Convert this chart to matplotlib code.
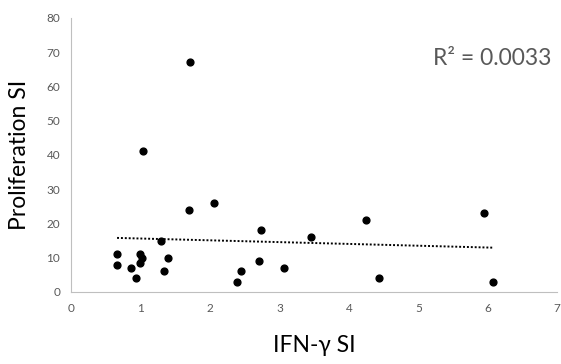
import matplotlib.pyplot as plt
import numpy as np

# IFN-gamma SI vs proliferation SI
ifn_si = [0.66, 0.66, 0.86, 0.93, 0.99, 1.02, 0.99, 1.03, 1.29, 1.34, 1.40,
          1.71, 1.70, 2.05, 2.39, 2.44, 2.73, 2.71, 3.06, 3.46, 4.24, 4.44,
          5.94, 6.08]
prolif_si = [11, 8, 7, 4, 11, 10, 8.3, 41, 15, 6, 10,
             67, 24, 26, 3, 6, 18, 9, 7, 16, 21, 4,
             23, 3]
x_ticks = [0, 1, 2, 3, 4, 5, 6, 7]
y_ticks = [0, 10, 20, 30, 40, 50, 60, 70, 80]

plt.rcParams['font.family'] = ['Lato', 'DejaVu Sans']

fig = plt.figure(figsize=(5.61, 3.64), dpi=100)
ax = fig.add_axes([0.127, 0.198, 0.866, 0.753])

x = np.array(ifn_si)
y = np.array(prolif_si)
ax.scatter(x, y, s=24, color="black", zorder=3)

# linear trendline
m, b = np.polyfit(x, y, 1)
xs = np.array([x.min(), x.max()])
ax.plot(xs, m * xs + b, color="black", linestyle=(0, (1, 1)), linewidth=1.4)

ax.text(6.92, 68, "R² = 0.0033", fontsize=16.5, color="#595959",
        ha="right", va="center")

ax.set_xlim(0, 7)
ax.set_ylim(0, 80)
ax.set_xticks(x_ticks)
ax.set_yticks(y_ticks)
ax.tick_params(length=0, labelsize=8.5, labelcolor="#595959", pad=8)
for side in ["top", "right"]:
    ax.spines[side].set_visible(False)
for side in ["left", "bottom"]:
    ax.spines[side].set_color("#bfbfbf")

ax.set_xlabel("IFN-γ SI", fontsize=16.5, labelpad=15)
ax.set_ylabel("Proliferation SI", fontsize=16.5, labelpad=12)

fig.savefig("out.png", dpi=100)
